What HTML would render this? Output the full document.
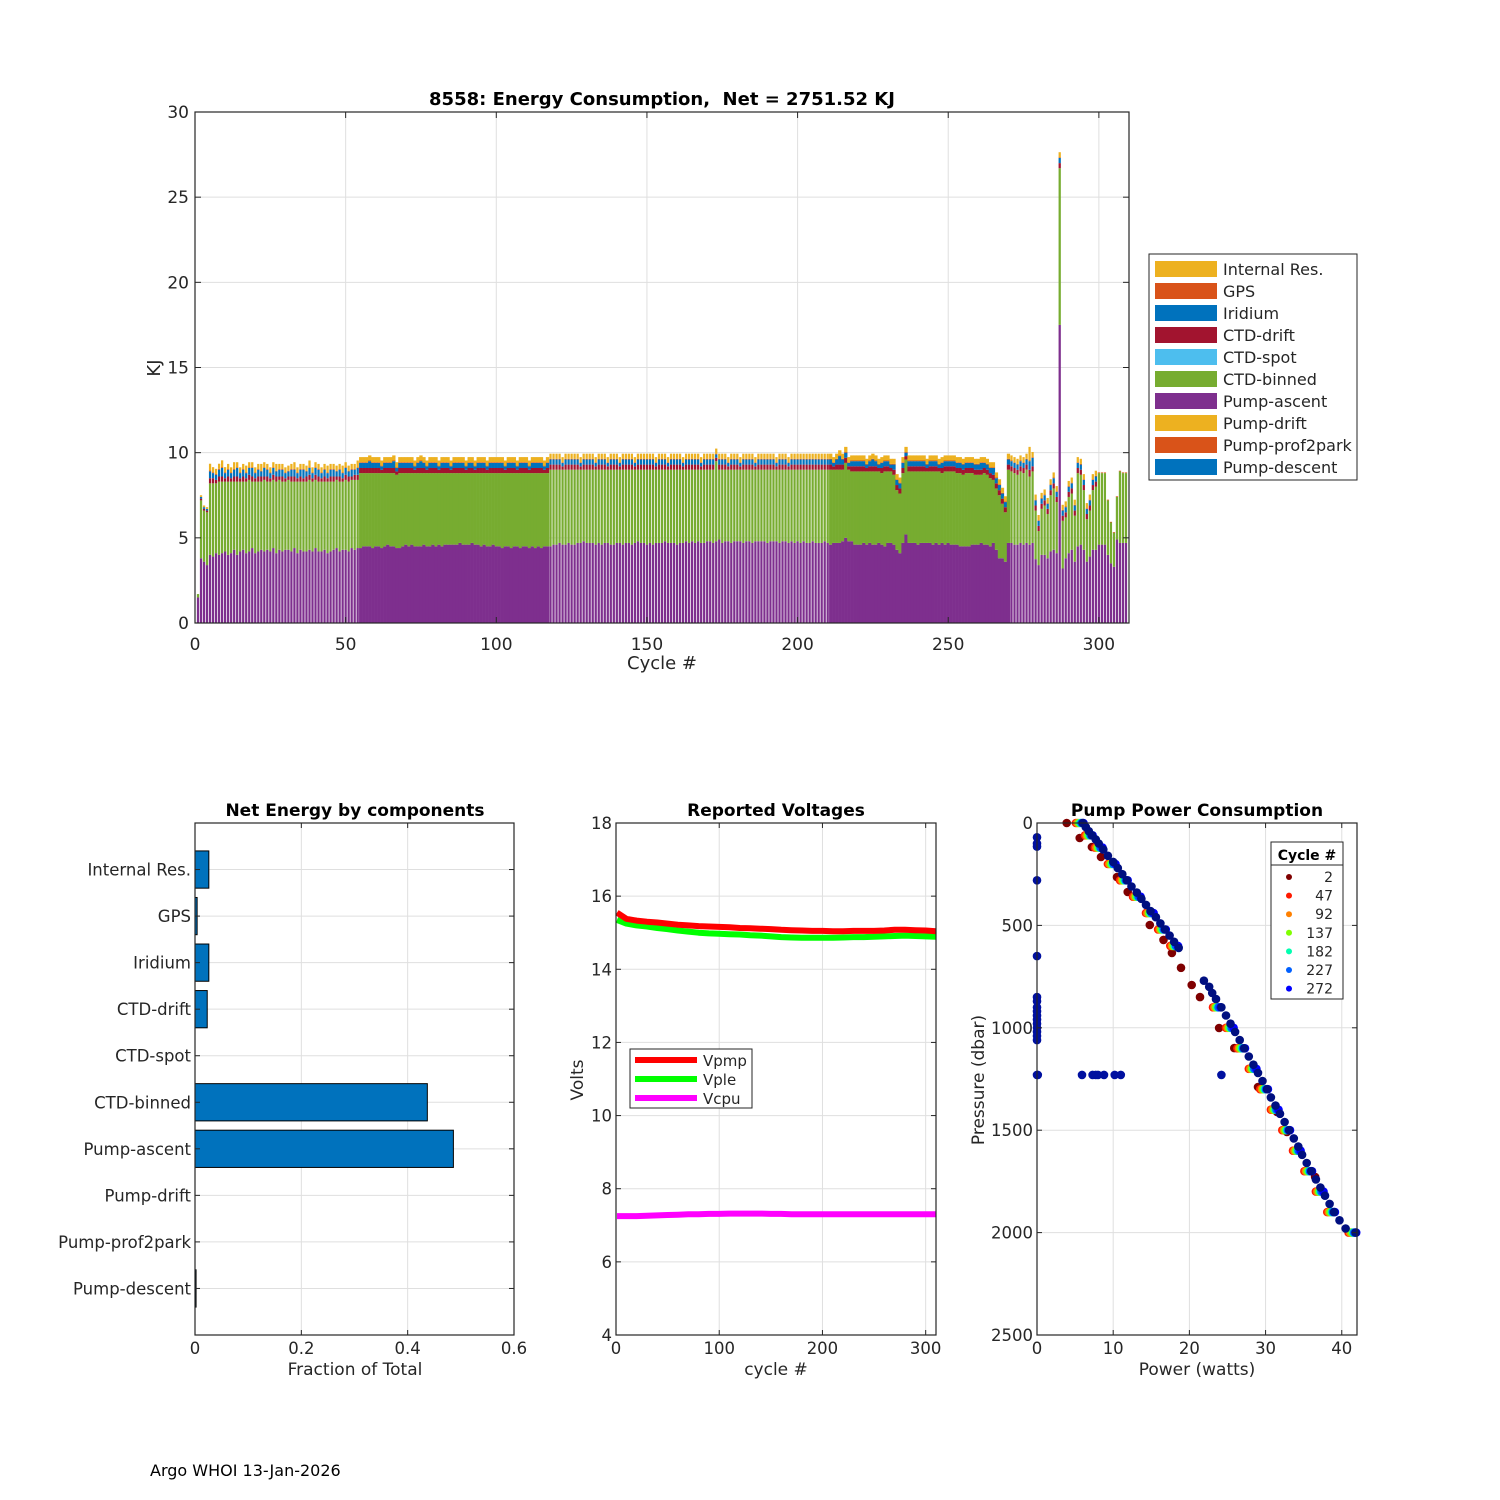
<!DOCTYPE html>
<html><head><meta charset="utf-8"><title>8558 Energy Consumption</title>
<style>
html,body{margin:0;padding:0;background:#fff;}
svg{display:block;font-family:"DejaVu Sans","Liberation Sans",sans-serif;}
.pre{white-space:pre;}
</style></head>
<body>
<svg id="fig" width="1500" height="1500" viewBox="0 0 1500 1500" xmlns="http://www.w3.org/2000/svg">
<rect x="0" y="0" width="1500" height="1500" fill="#fff"/>
<text x="150" y="1476" font-size="16" fill="#000">Argo WHOI 13-Jan-2026</text>
</svg>
<script>
// ---------------- Top chart data (KJ per cycle) ----------------
const pumpAscent = [1.5,3.8,3.6,3.4,
4.0,3.9,4.1,4.0,4.1,4.2,4.0,4.1,4.3,4.0,4.2,4.3,4.1,4.2,4.4,4.1,4.2,4.3,4.2,4.3,4.2,4.4,4.1,4.3,4.2,4.3,4.3,4.2,4.4,4.1,4.3,4.2,4.2,4.3,4.2,4.4,4.2,4.2,4.3,4.1,4.2,4.3,4.4,4.2,4.3,4.3,4.2,4.4,4.3,4.4,
4.4,4.5,4.5,4.5,4.4,4.5,4.5,4.4,4.5,4.6,4.5,4.5,4.4,4.4,4.5,4.6,4.5,4.6,4.5,4.5,4.5,4.6,4.5,4.5,4.6,4.5,4.6,4.5,4.6,4.6,4.6,4.6,4.6,4.7,4.6,4.6,4.6,4.7,4.6,4.6,4.5,4.6,4.5,4.5,4.6,4.5,4.5,4.4,4.5,4.5,4.4,4.5,4.5,4.4,4.5,4.5,4.4,4.5,4.4,4.5,4.4,4.5,4.5,
4.5,4.6,4.6,4.7,4.6,4.6,4.7,4.6,4.6,4.7,4.7,4.8,4.7,4.7,4.7,4.6,4.7,4.6,4.7,4.7,4.6,4.6,4.7,4.7,4.6,4.7,4.7,4.6,4.7,4.8,4.7,4.7,4.6,4.7,4.6,4.7,4.7,4.7,4.8,4.7,4.7,4.7,4.6,4.7,4.7,4.8,4.7,4.8,4.7,4.8,4.7,4.7,4.8,4.8,4.7,4.8,4.9,4.7,4.8,4.8,4.7,4.8,4.8,4.8,4.7,4.8,4.8,4.7,4.8,4.8,4.8,4.8,4.7,4.8,4.8,4.8,4.7,4.8,4.8,4.7,4.8,4.7,4.8,4.7,4.8,4.7,4.7,4.8,4.7,4.7,4.7,4.8,4.7,
4.6,4.7,4.7,4.7,4.8,5.0,4.8,4.8,4.6,4.6,4.6,4.7,4.6,4.7,4.6,4.6,4.7,4.6,4.5,4.7,
4.7,4.6,4.3,4.1,4.7,5.2,
4.7,4.7,4.7,4.6,4.7,4.7,4.7,4.7,4.6,4.7,4.6,4.7,4.6,4.7,4.6,4.6,4.6,4.5,4.5,4.5,4.5,4.6,4.6,4.6,4.7,4.6,
4.6,4.5,4.7,4.3,3.8,3.8,3.6,4.7,
4.7,4.6,4.6,4.7,4.6,4.7,4.6,4.7,
3.75,3.4,4.0,4.0,3.8,4.2,4.3,4.1,
17.5,
3.2,3.8,4.1,4.3,3.6,4.5,4.6,4.3,3.6,3.9,4.3,4.3,4.6,4.6,4.6,4.0,3.5,3.3,4.9,4.7,4.7,4.7];
const ctdBinned = [0.2,3.4,3.0,3.1,
4.2,4.3,4.1,4.3,4.2,4.1,4.3,4.2,4.0,4.3,4.1,4.0,4.2,4.2,3.9,4.2,4.1,4.0,4.2,4.0,4.1,4.0,4.2,4.1,4.1,4.0,4.1,4.1,3.9,4.2,4.0,4.1,4.1,4.1,4.1,4.0,4.1,4.1,4.0,4.2,4.1,4.0,4.0,4.1,4.0,4.1,4.1,4.0,4.1,4.0,
4.4,4.3,4.3,4.3,4.4,4.3,4.3,4.4,4.3,4.2,4.3,4.3,4.3,4.4,4.3,4.2,4.3,4.2,4.3,4.3,4.3,4.2,4.3,4.3,4.2,4.3,4.2,4.3,4.2,4.2,4.2,4.2,4.2,4.1,4.2,4.2,4.2,4.1,4.2,4.2,4.3,4.2,4.3,4.3,4.2,4.3,4.3,4.4,4.3,4.3,4.4,4.3,4.3,4.4,4.3,4.3,4.4,4.3,4.4,4.3,4.4,4.3,4.3,
4.5,4.4,4.4,4.3,4.4,4.4,4.3,4.4,4.4,4.3,4.3,4.2,4.3,4.3,4.3,4.4,4.3,4.4,4.3,4.3,4.4,4.4,4.3,4.3,4.4,4.3,4.3,4.4,4.3,4.2,4.3,4.3,4.4,4.3,4.4,4.3,4.3,4.3,4.2,4.3,4.3,4.3,4.4,4.3,4.3,4.2,4.3,4.2,4.3,4.2,4.3,4.3,4.2,4.2,4.3,4.7,4.1,4.3,4.2,4.2,4.3,4.2,4.2,4.2,4.3,4.2,4.2,4.3,4.2,4.2,4.2,4.2,4.3,4.2,4.2,4.2,4.3,4.2,4.2,4.3,4.2,4.3,4.2,4.3,4.2,4.3,4.3,4.2,4.3,4.3,4.3,4.2,4.3,
4.4,4.3,4.3,4.3,4.2,4.4,4.2,4.1,4.3,4.3,4.3,4.2,4.3,4.2,4.3,4.3,4.2,4.2,4.4,4.2,
4.2,4.1,3.5,3.5,4.1,4.4,
4.2,4.2,4.2,4.3,4.2,4.2,4.2,4.2,4.3,4.2,4.3,4.1,4.3,4.2,4.3,4.3,4.2,4.3,4.2,4.3,4.3,4.2,4.1,4.1,4.0,4.2,
4.1,4.0,3.7,3.6,3.7,3.2,2.9,4.3,
4.2,4.2,4.1,4.2,4.2,4.3,4.0,4.2,
2.85,2.0,2.7,2.9,2.6,3.3,3.6,3.0,
9.2,
2.8,2.4,3.3,3.3,2.7,4.3,4.1,3.5,2.5,2.7,3.5,3.7,4.2,4.2,4.2,3.2,2.4,2.0,2.5,4.2,4.1,4.1];
const ctdDrift = [0,.1,.1,.1,.3,.3,.2,.3,.3,.2,
.3,.2,.3,.3,.2,.3,.2,.3,.3,.2, .3,.3,.2,.3,.2,.3,.3,.2,.3,.2, .2,.3,.3,.2,.3,.2,.3,.3,.2,.3, .3,.2,.3,.2,.3,.3,.2,.3,.2,.3,
.3,.2,.3,.3,.3,.3,.3,.3,.3,.3, .3,.2,.3,.3,.3,.3,.2,.3,.3,.3, .3,.3,.2,.3,.3,.3,.2,.3,.3,.3, .2,.3,.3,.3,.2,.3,.3,.3,.3,.2, .3,.3,.2,.3,.3,.3,.2,.3,.3,.3,
.3,.3,.2,.3,.3,.3,.2,.3,.3,.3, .2,.3,.3,.3,.3,.2,.3,.3,.3,.3, .3,.2,.3,.3,.3,.3,.3,.2,.3,.3, .3,.3,.2,.3,.3,.3,.2,.3,.3,.3, .2,.3,.3,.3,.3,.2,.3,.3,.3,.3,
.3,.3,.2,.3,.3,.3,.2,.3,.3,.3, .3,.2,.3,.3,.3,.3,.3,.2,.3,.3, .3,.3,.2,.3,.3,.3,.2,.3,.3,.3, .2,.3,.3,.3,.3,.2,.3,.3,.3,.3, .3,.3,.2,.3,.3,.3,.2,.3,.3,.3,
.3,.3,.3,.3,.3,.3,.3,.3,.3,.3, .3,.2,.3,.3,.3,.3,.2,.3,.3,.3, .3,.3,.2,.3,.3,.3,.2,.3,.3,.3, .2,.3,.3,.3,.3,.2,.3,.3,.3,.3, .3,.3,.2,.3,.3,.3,.2,.3,.3,.3,
.3,.3,.3,.3,.3,.3,.3,.3,.3,.3, .3,.3,.3,.3,.3,.3,.3,.3,.3,.3, .3,.3,.3,.3,.3,.3,.4,.3,.3,.3, .3,.3,.3,.3,.3,.3,.3,.3,.3,.3, .3,.3,.3,.3,.3,.3,.3,.3,.3];
const iridium = [0,.1,.1,.1,.4,.3,.3,.4,.5,.3,
.4,.3,.4,.5,.3,.4,.3,.4,.5,.3, .4,.3,.5,.4,.3,.4,.3,.4,.4,.3, .3,.4,.4,.3,.4,.5,.3,.4,.3,.4, .4,.3,.4,.3,.4,.4,.3,.4,.3,.4,
.3,.4,.3,.4,.3,.3,.3,.4,.3,.3, .3,.2,.3,.3,.3,.4,.2,.3,.3,.3, .3,.3,.2,.3,.4,.3,.2,.3,.3,.3, .2,.3,.3,.3,.2,.3,.3,.3,.3,.2, .3,.3,.2,.3,.3,.3,.2,.3,.3,.3,
.3,.3,.2,.3,.3,.3,.2,.3,.3,.3, .2,.3,.3,.3,.3,.2,.3,.3,.3,.3, .3,.2,.3,.3,.3,.3,.3,.2,.3,.3, .3,.3,.2,.3,.3,.3,.2,.3,.3,.3, .2,.3,.3,.3,.3,.2,.3,.3,.3,.3,
.3,.3,.2,.3,.3,.3,.2,.3,.3,.3, .3,.2,.3,.3,.3,.3,.3,.2,.3,.3, .3,.3,.2,.3,.3,.3,.2,.3,.3,.3, .2,.3,.3,.3,.3,.2,.3,.3,.3,.3, .3,.3,.2,.3,.3,.3,.2,.3,.3,.3,
.3,.3,.3,.3,.3,.3,.3,.3,.3,.3, .3,.2,.3,.5,.3,.3,.2,.3,.3,.3, .3,.3,.2,.3,.4,.3,.2,.3,.3,.3, .2,.3,.3,.3,.3,.2,.3,.3,.3,.3, .3,.3,.2,.3,.3,.3,.2,.3,.3,.3,
.3,.3,.3,.3,.3,.3,.3,.3,.3,.3, .4,.3,.3,.3,.4,.3,.3,.3,.3,.3, .3,.3,.3,.3,.3,.3,.5,.5,.3,.3, .3,.3,.3,.3,.3,.3,.3,.3,.3,.3, .3,.3,.3,.3,.3,.3,.3,.3,.3];
const internalRes = [0,.1,.1,.1,.4,.3,.3,.3,.4,.3,
.3,.3,.4,.3,.3,.3,.4,.3,.3,.3, .3,.4,.3,.3,.3,.3,.4,.3,.3,.3, .3,.3,.4,.3,.3,.3,.3,.4,.3,.3, .3,.3,.3,.4,.3,.3,.3,.3,.4,.3,
.3,.3,.3,.4,.3,.3,.3,.3,.3,.3, .3,.3,.3,.3,.3,.3,.3,.3,.3,.3, .3,.3,.3,.3,.3,.3,.3,.3,.3,.3, .3,.3,.3,.3,.3,.3,.3,.3,.3,.3, .3,.3,.3,.3,.3,.3,.3,.3,.3,.3,
.3,.3,.3,.3,.3,.3,.3,.3,.3,.3, .3,.3,.3,.3,.3,.3,.3,.3,.3,.3, .3,.3,.3,.3,.3,.3,.3,.3,.3,.3, .3,.3,.3,.3,.3,.3,.3,.3,.3,.3, .3,.3,.3,.3,.3,.3,.3,.3,.3,.3,
.3,.3,.3,.3,.3,.3,.3,.3,.3,.3, .3,.3,.3,.3,.3,.3,.3,.3,.3,.3, .3,.3,.3,.3,.3,.3,.3,.3,.3,.3, .3,.3,.3,.3,.3,.3,.3,.3,.3,.3, .3,.3,.3,.3,.3,.3,.3,.3,.3,.3,
.3,.3,.3,.3,.3,.3,.3,.3,.3,.3, .3,.3,.3,.3,.3,.3,.3,.3,.3,.3, .3,.3,.3,.3,.3,.3,.3,.3,.3,.3, .3,.3,.3,.3,.3,.3,.3,.3,.3,.3, .3,.3,.3,.3,.3,.3,.3,.3,.3,.3,
.3,.3,.3,.3,.3,.3,.3,.3,.3,.3, .3,.3,.3,.3,.3,.3,.3,.3,.3,.3, .3,.3,.3,.3,.3,.3,.8,.3,.3,.3, .3,.3,.3,.3,.3,.3,.3,.3,.3,.3, .3,.3,.3,.3,.3,.3,.3,.3,.3];
const gps = [0,0,0,0,.05,.05,.05,.05,.05,.05];
const stackOrder = [pumpAscent, ctdBinned, ctdDrift, iridium, gps, internalRes];
const stackColors = ["#7E2F8E","#77AC30","#A2142F","#0072BD","#D95319","#EDB120"];
const topXTicks = [0,50,100,150,200,250,300];
const topYTicks = [0,5,10,15,20,25,30];
const legendLabels = ["Internal Res.","GPS","Iridium","CTD-drift","CTD-spot","CTD-binned","Pump-ascent","Pump-drift","Pump-prof2park","Pump-descent"];
const legendColors = ["#EDB120","#D95319","#0072BD","#A2142F","#4DBEEE","#77AC30","#7E2F8E","#EDB120","#D95319","#0072BD"];

// ---------------- Component fraction data ----------------
const compLabels = ["Internal Res.","GPS","Iridium","CTD-drift","CTD-spot","CTD-binned","Pump-ascent","Pump-drift","Pump-prof2park","Pump-descent"];
const compFractions = [0.026,0.004,0.026,0.023,0.0,0.437,0.486,0.0,0.0,0.002];
const fracTicks = [0,0.2,0.4,0.6];

// ---------------- Voltage data (cycle samples) ----------------
const voltCycles = [1,10,20,30,40,50,60,70,80,90,100,110,120,130,140,150,160,170,180,190,200,210,220,230,240,250,260,270,280,290,300,310];
const vpmp = [15.55,15.38,15.33,15.3,15.28,15.25,15.22,15.2,15.18,15.17,15.16,15.15,15.13,15.12,15.11,15.1,15.08,15.07,15.06,15.05,15.05,15.04,15.04,15.05,15.05,15.05,15.06,15.08,15.08,15.07,15.06,15.04];
const vple = [15.35,15.25,15.2,15.17,15.13,15.1,15.06,15.03,15.0,14.98,14.97,14.96,14.95,14.93,14.92,14.9,14.88,14.87,14.86,14.86,14.86,14.86,14.87,14.88,14.88,14.89,14.9,14.91,14.92,14.91,14.9,14.89];
const vcpu = [7.25,7.25,7.25,7.26,7.27,7.28,7.29,7.3,7.3,7.31,7.31,7.32,7.32,7.32,7.32,7.31,7.31,7.3,7.3,7.3,7.3,7.3,7.3,7.3,7.3,7.3,7.3,7.3,7.3,7.3,7.3,7.3];
const voltXTicks = [0,100,200,300];
const voltYTicks = [4,6,8,10,12,14,16,18];

// ---------------- Pump power scatter data ----------------
const presFull = [0,20,40,60,80,100,130,160,190,220,250,280,310,340,370,400,430,460,490,520,550,580,610,770,800,830,860,900,940,980,1020,1060,1100,1140,1180,1220,1260,1300,1340,1380,1420,1460,1500,1540,1580,1620,1660,1700,1740,1780,1820,1860,1900,1940,1980,2000];
const powNavy = [6.0,6.4,6.8,7.2,7.7,8.1,8.7,9.3,10.0,10.6,11.2,11.8,12.4,13.1,13.7,14.3,14.9,15.6,16.2,16.8,17.4,18.0,18.6,21.9,22.6,23.0,23.5,24.2,24.8,25.4,26.0,26.6,27.2,27.8,28.4,29.0,29.6,30.2,30.7,31.3,31.9,32.5,33.1,33.7,34.3,34.8,35.4,36.0,36.6,37.2,37.8,38.4,39.0,39.7,40.5,41.8];
const presSub = [0,60,120,200,280,360,440,520,600,900,1000,1100,1200,1300,1400,1500,1600,1700,1800,1900,2000];
const pow47 = [5.1,6.3,7.6,9.3,10.9,12.6,14.3,15.9,17.5,23.1,24.8,26.3,27.8,29.3,30.7,32.2,33.6,35.1,36.6,38.1,40.9];
const pow92 = [5.3,6.5,7.8,9.5,11.1,12.8,14.5,16.1,17.7,23.3,25.0,26.5,28.0,29.5,30.9,32.4,33.8,35.3,36.8,38.3,41.1];
const pow137 = [5.5,6.7,8.0,9.7,11.3,13.0,14.7,16.3,17.9,23.5,25.2,26.7,28.2,29.7,31.1,32.6,34.0,35.5,37.0,38.5,41.3];
const pow182 = [5.7,6.9,8.2,9.9,11.5,13.2,14.9,16.5,18.1,23.7,25.4,26.9,28.4,29.9,31.3,32.8,34.2,35.7,37.2,38.7,41.5];
const pow227 = [5.85,7.05,8.35,10.05,11.65,13.35,15.05,16.65,18.25,23.85,25.55,27.05,28.55,30.05,31.45,32.95,34.35,35.85,37.35,38.85,41.65];
const pow272 = [6.1,7.3,8.6,10.3,11.9,13.6,15.3,16.9,18.5,24.1,25.8,27.3,28.8,30.3,31.7,33.2,34.6,36.1,37.6,39.1,41.9];
const pres2 = [0,73,117,166,264,337,498,571,635,707,791,850,1001,1099,1289,1411,1509,1728];
const pow2 = [3.9,5.6,7.2,8.4,10.5,11.9,14.8,16.6,17.7,18.9,20.3,21.4,23.9,25.9,29.0,31.5,32.8,36.5];
const outPres = [70,100,115,280,650,850,870,900,920,940,960,980,1000,1020,1040,1060,1230,1230,1230,1230,1230,1230,1230,1230,1230,1230];
const outPow = [0,0,0,0,0,0,0,0,0,0,0,0,0,0,0,0,0,5.9,7.3,7.7,8.0,8.8,10.2,11.0,24.2,0.1];
const cycleLegend = ["2","47","92","137","182","227","272"];
const cycleColors = ["#7F0000","#FF1A00","#FF8000","#80FF00","#00FFB0","#0060FF","#0000FF"];
const powXTicks = [0,10,20,30,40];
const presTicks = [0,500,1000,1500,2000,2500];

// ---------------- drawing helpers ----------------
const NS = "http://www.w3.org/2000/svg";
const fig = document.getElementById("fig");
function mk(tag, attrs, parent){
  const e = document.createElementNS(NS, tag);
  for (const k in attrs) e.setAttribute(k, attrs[k]);
  (parent||fig).appendChild(e);
  return e;
}
function txt(parent, x, y, s, size, anchor, extra){
  const t = mk("text", Object.assign({x:x, y:y, "font-size":size, "text-anchor":anchor||"start", fill:"#262626"}, extra||{}), parent);
  t.textContent = s;
  return t;
}
function axesFrame(g, L, T, R, B){
  const r = mk("rect", {x:L, y:T, width:R-L, height:B-T, fill:"none", stroke:"#262626", "stroke-width":1.2}, g);
  
  
}

// ================= TOP CHART =================
(function(){
  const L=195,R=1129,T=112,B=623;
  const g = mk("g", {});
  
  
  const xs = c => L + c*(R-L)/310;
  const ys = v => B - v*(B-T)/30;
  const grid = mk("g", {stroke:"#dfdfdf","stroke-width":1}, g);
  
  
  topXTicks.forEach(v=>{ if(v>0) mk("line",{x1:xs(v),x2:xs(v),y1:T,y2:B},grid); });
  topYTicks.forEach(v=>{ if(v>0&&v<30) mk("line",{x1:L,x2:R,y1:ys(v),y2:ys(v)},grid); });
  const bars = mk("g", {}, g);
  
  
  const step = (R-L)/310;
  for (let i=0;i<pumpAscent.length;i++){
    const c = i+1;
    const wide = (c>=55&&c<=117)||(c>=211&&c<=270);
    const w = wide ? step+0.3 : step*0.75;
    let base = 0;
    stackOrder.forEach((arr,k)=>{
      const v = arr[i]!==undefined ? arr[i] : (k===4 ? 0.04 : 0);
      if (v<=0) return;
      const y0 = ys(base), y1 = ys(base+v);
      const r = mk("rect",{x:xs(c)-w/2, y:y1, width:w, height:y0-y1, fill:stackColors[k]}, bars);
      
      
      base += v;
    });
  }
  axesFrame(g,L,T,R,B);
  const ticks = mk("g",{stroke:"#262626","stroke-width":1},g);
  topXTicks.forEach(v=>{
    mk("line",{x1:xs(v),x2:xs(v),y1:B,y2:B-6},ticks); mk("line",{x1:xs(v),x2:xs(v),y1:T,y2:T+6},ticks);
    const t = txt(g, xs(v), B+27, String(v), 17, "middle");
    
    
  });
  topYTicks.forEach(v=>{
    mk("line",{x1:L,x2:L+6,y1:ys(v),y2:ys(v)},ticks); mk("line",{x1:R,x2:R-6,y1:ys(v),y2:ys(v)},ticks);
    const t = txt(g, L-6, ys(v)+6, String(v), 17, "end");
    
    
  });
  const tt = txt(g, 662, 105, "8558: Energy Consumption,  Net = 2751.52 KJ", 18, "middle", {"font-weight":"bold", fill:"#000", "class":"pre"});
  
  
  const xl = txt(g, 662, 669, "Cycle #", 18, "middle");
  
  
  const yl = txt(g, 160, 368, "KJ", 18, "middle", {transform:"rotate(-90 160 368)"});
  
  
  const lg = mk("g",{},g);
  
  
  mk("rect",{x:1149,y:254,width:208,height:226,fill:"#fff",stroke:"#262626","stroke-width":1},lg);
  legendLabels.forEach((s,k)=>{
    const y = 269 + k*22;
    const e = mk("g",{},lg);
    
    
    mk("rect",{x:1155,y:y-8,width:62,height:16,fill:legendColors[k]},e);
    txt(e, 1223, y+6, s, 16, "start");
  });
})();

// ================= FRACTION BAR CHART =================
(function(){
  const L=195,R=514,T=823,B=1335;
  const g = mk("g", {});
  
  
  const xs = v => L + v*(R-L)/0.6;
  const slot = (B-T)/11;
  const yc = k => T + slot*(k+1);
  const grid = mk("g",{stroke:"#dfdfdf","stroke-width":1},g);
  fracTicks.forEach(v=>{ if(v>0&&v<0.6) mk("line",{x1:xs(v),x2:xs(v),y1:T,y2:B},grid); });
  compLabels.forEach((s,k)=>{ mk("line",{x1:L,x2:R,y1:yc(k),y2:yc(k)},grid); });
  compFractions.forEach((v,k)=>{
    if (v<=0) return;
    const r = mk("rect",{x:xs(0), y:yc(k)-slot*0.4, width:xs(v)-xs(0), height:slot*0.8, fill:"#0072BD", stroke:"#000","stroke-width":1},g);
    
    
  });
  axesFrame(g,L,T,R,B);
  const ticks = mk("g",{stroke:"#262626","stroke-width":1},g);
  fracTicks.forEach(v=>{
    mk("line",{x1:xs(v),x2:xs(v),y1:B,y2:B-5},ticks); mk("line",{x1:xs(v),x2:xs(v),y1:T,y2:T+5},ticks);
    const t = txt(g, xs(v), B+19, String(v), 16.5, "middle");
    
    
  });
  compLabels.forEach((s,k)=>{
    mk("line",{x1:L,x2:L+5,y1:yc(k),y2:yc(k)},ticks); mk("line",{x1:R,x2:R-5,y1:yc(k),y2:yc(k)},ticks);
    const t = txt(g, L-4, yc(k)+6, s, 16.5, "end");
    
    
  });
  const tt = txt(g, 355, 816, "Net Energy by components", 17, "middle", {"font-weight":"bold", fill:"#000"});
  
  
  const xl = txt(g, 355, 1375, "Fraction of Total", 17, "middle");
  
  
})();

// ================= VOLTAGE CHART =================
(function(){
  const L=616,R=936,T=823,B=1335;
  const g = mk("g", {});
  
  
  const xs = c => L + c*(R-L)/310;
  const ys = v => B - (v-4)*(B-T)/14;
  const grid = mk("g",{stroke:"#dfdfdf","stroke-width":1},g);
  voltXTicks.forEach(v=>{ if(v>0) mk("line",{x1:xs(v),x2:xs(v),y1:T,y2:B},grid); });
  voltYTicks.forEach(v=>{ if(v>4&&v<18) mk("line",{x1:L,x2:R,y1:ys(v),y2:ys(v)},grid); });
  const series = [[vcpu,"#FF00FF","vcpu-line"],[vple,"#00FF00","vple-line"],[vpmp,"#FF0000","vpmp-line"]];
  series.forEach(([arr,col,name])=>{
    const d = arr.map((v,i)=>(i?"L":"M")+xs(voltCycles[i]).toFixed(1)+","+ys(v).toFixed(1)).join(" ");
    const p = mk("path",{d:d, fill:"none", stroke:col, "stroke-width":6, "stroke-linejoin":"round"},g);
    
    
  });
  axesFrame(g,L,T,R,B);
  const ticks = mk("g",{stroke:"#262626","stroke-width":1},g);
  voltXTicks.forEach(v=>{
    mk("line",{x1:xs(v),x2:xs(v),y1:B,y2:B-5},ticks); mk("line",{x1:xs(v),x2:xs(v),y1:T,y2:T+5},ticks);
    const t = txt(g, xs(v), B+19, String(v), 16.5, "middle");
    
    
  });
  voltYTicks.forEach(v=>{
    mk("line",{x1:L,x2:L+5,y1:ys(v),y2:ys(v)},ticks); mk("line",{x1:R,x2:R-5,y1:ys(v),y2:ys(v)},ticks);
    const t = txt(g, L-4, ys(v)+6, String(v), 16.5, "end");
    
    
  });
  const tt = txt(g, 776, 816, "Reported Voltages", 17, "middle", {"font-weight":"bold", fill:"#000"});
  
  
  const xl = txt(g, 776, 1375, "cycle #", 17, "middle");
  
  
  const yl = txt(g, 583, 1080, "Volts", 17, "middle", {transform:"rotate(-90 583 1080)"});
  
  
  const lg = mk("g",{},g);
  
  
  mk("rect",{x:630,y:1049,width:122,height:59,fill:"#fff",stroke:"#262626","stroke-width":1},lg);
  [["Vpmp","#FF0000"],["Vple","#00FF00"],["Vcpu","#FF00FF"]].forEach(([s,c],k)=>{
    const y = 1060 + k*19;
    const e = mk("g",{},lg);
    
    
    mk("line",{x1:635,x2:697,y1:y,y2:y,stroke:c,"stroke-width":6},e);
    txt(e, 703, y+6, s, 15, "start");
  });
})();

// ================= PUMP POWER SCATTER =================
(function(){
  const L=1037,R=1357,T=823,B=1335;
  const g = mk("g", {});
  
  
  const xs = w => L + w*(R-L)/42;
  const ys = p => T + p*(B-T)/2500;
  const grid = mk("g",{stroke:"#dfdfdf","stroke-width":1},g);
  powXTicks.forEach(v=>{ if(v>0) mk("line",{x1:xs(v),x2:xs(v),y1:T,y2:B},grid); });
  presTicks.forEach(v=>{ if(v>0&&v<2500) mk("line",{x1:L,x2:R,y1:ys(v),y2:ys(v)},grid); });
  function dots(pres, pow, col, name){
    const sg = mk("g",{fill:col},g);
    
    
    pres.forEach((p,i)=>{
      const c = mk("circle",{cx:xs(pow[i]).toFixed(1), cy:ys(p).toFixed(1), r:4.3},sg);
      
      
    });
  }
  dots(pres2, pow2, cycleColors[0], "series-cycle-2");
  dots(presSub, pow47, cycleColors[1], "series-cycle-47");
  dots(presSub, pow92, cycleColors[2], "series-cycle-92");
  dots(presSub, pow137, cycleColors[3], "series-cycle-137");
  dots(presSub, pow182, cycleColors[4], "series-cycle-182");
  dots(presSub, pow227, cycleColors[5], "series-cycle-227");
  dots(presSub, pow272, cycleColors[6], "series-cycle-272");
  dots(presFull, powNavy, "#000F80", "series-late-cycles");
  dots(outPres, outPow, "#0010A0", "series-outliers");
  axesFrame(g,L,T,R,B);
  const ticks = mk("g",{stroke:"#262626","stroke-width":1},g);
  powXTicks.forEach(v=>{
    mk("line",{x1:xs(v),x2:xs(v),y1:B,y2:B-5},ticks); mk("line",{x1:xs(v),x2:xs(v),y1:T,y2:T+5},ticks);
    const t = txt(g, xs(v), B+19, String(v), 16.5, "middle");
    
    
  });
  presTicks.forEach(v=>{
    mk("line",{x1:L,x2:L+5,y1:ys(v),y2:ys(v)},ticks); mk("line",{x1:R,x2:R-5,y1:ys(v),y2:ys(v)},ticks);
    const t = txt(g, L-4, ys(v)+6, String(v), 16.5, "end");
    
    
  });
  const tt = txt(g, 1197, 816, "Pump Power Consumption", 17, "middle", {"font-weight":"bold", fill:"#000"});
  
  
  const xl = txt(g, 1197, 1375, "Power (watts)", 17, "middle");
  
  
  const yl = txt(g, 984, 1080, "Pressure (dbar)", 17, "middle", {transform:"rotate(-90 984 1080)"});
  
  
  const lg = mk("g",{},g);
  
  
  mk("rect",{x:1271,y:842,width:72,height:157,fill:"#fff",stroke:"#262626","stroke-width":1},lg);
  mk("line",{x1:1271,x2:1343,y1:865,y2:865,stroke:"#262626","stroke-width":1},lg);
  const lt = txt(lg, 1307, 860, "Cycle #", 14, "middle", {"font-weight":"bold", fill:"#000"});
  
  
  cycleLegend.forEach((s,k)=>{
    const y = 877 + k*18.6;
    const e = mk("g",{},lg);
    
    
    mk("circle",{cx:1289,cy:y,r:3,fill:cycleColors[k]},e);
    txt(e, 1333, y+5, s, 14, "end");
  });
})();
</script>
</body></html>
